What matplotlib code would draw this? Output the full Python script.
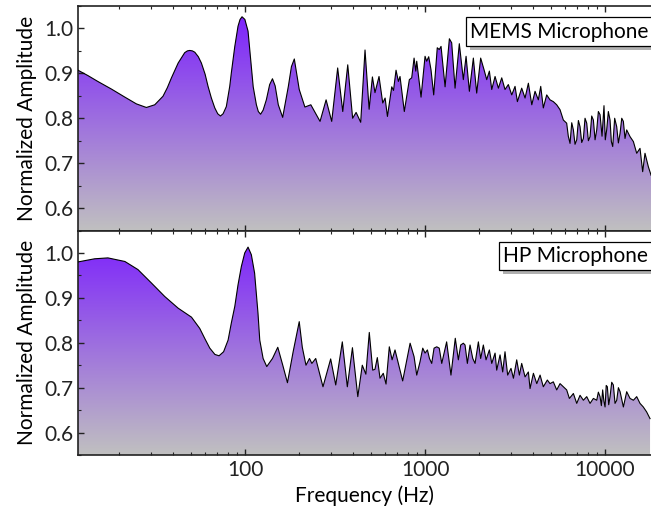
import numpy as np
import matplotlib
matplotlib.use("Agg")
import matplotlib.pyplot as plt
from matplotlib.colors import LinearSegmentedColormap
from matplotlib.ticker import MultipleLocator, FuncFormatter
from matplotlib import patheffects

plt.rcParams['font.family'] = ['Lato', 'DejaVu Sans']

# frequency response of the MEMS microphone: (Hz, normalized amplitude)
mems_points = [
    (11.8, 0.907), (13.4, 0.895), (15.2, 0.882), (18.1, 0.865), (21.5, 0.847),
    (24.9, 0.832), (28.3, 0.824), (31.5, 0.830), (35.0, 0.849), (37.0, 0.868),
    (39.0, 0.890), (42.5, 0.923), (46.2, 0.946), (47.8, 0.950), (49.3, 0.951),
    (51.0, 0.950), (52.6, 0.947), (55.0, 0.937), (57.2, 0.923), (60.0, 0.898),
    (62.3, 0.871), (65.0, 0.845), (67.9, 0.823), (70.5, 0.810), (73.0, 0.805),
    (75.5, 0.810), (78.7, 0.826), (82.2, 0.871), (83.9, 0.901), (87.7, 0.960),
    (91.4, 1.005), (93.8, 1.020), (96.2, 1.026), (99.8, 1.020), (103.9, 0.994),
    (108.4, 0.916), (111, 0.870), (115.6, 0.830), (118.5, 0.815), (122, 0.809),
    (126, 0.818), (131.3, 0.841), (137, 0.875), (142, 0.888), (147, 0.872),
    (153, 0.830), (161.8, 0.802), (174, 0.871), (181, 0.915), (187.8, 0.932),
    (200, 0.864), (215, 0.825), (232, 0.830), (261, 0.793), (282, 0.841),
    (303, 0.793), (327, 0.912), (349, 0.815), (372, 0.919), (396, 0.800),
    (414, 0.813), (439, 0.791), (464, 0.952), (489, 0.820), (510, 0.892),
    (527, 0.857), (555, 0.893), (582, 0.834), (600, 0.845), (618, 0.804),
    (653, 0.870), (668, 0.862), (690, 0.907), (711, 0.882), (726, 0.893),
    (767, 0.815), (818, 0.886), (843, 0.890), (869, 0.934), (888, 0.905),
    (899, 0.927), (950, 0.847), (1000, 0.938), (1021, 0.927), (1048, 0.937),
    (1079, 0.908), (1117, 0.852), (1169, 0.957), (1199, 0.953), (1227, 0.960),
    (1292, 0.870), (1365, 0.977), (1406, 0.968), (1468, 0.867), (1550, 0.966),
    (1632, 0.886), (1690, 0.938), (1763, 0.860), (1855, 0.934), (1936, 0.856),
    (2037, 0.934), (2127, 0.908), (2201, 0.886), (2277, 0.905), (2347, 0.864),
    (2449, 0.893), (2555, 0.867), (2667, 0.890), (2781, 0.864), (2902, 0.875),
    (3031, 0.852), (3162, 0.871), (3258, 0.837), (3443, 0.867), (3594, 0.845),
    (3750, 0.878), (3917, 0.830), (4084, 0.860), (4259, 0.841), (4392, 0.871),
    (4540, 0.823), (4741, 0.852), (4946, 0.841), (5160, 0.837), (5387, 0.830),
    (5623, 0.819), (5866, 0.796), (6121, 0.789), (6250, 0.760), (6390, 0.744),
    (6530, 0.790), (6669, 0.774), (6810, 0.742), (6960, 0.752), (7110, 0.795),
    (7263, 0.781), (7420, 0.746), (7578, 0.755), (7740, 0.800), (7911, 0.789),
    (8080, 0.750), (8254, 0.759), (8430, 0.805), (8613, 0.796), (8800, 0.752),
    (8990, 0.774), (9180, 0.815), (9380, 0.808), (9620, 0.760), (9866, 0.828),
    (10030, 0.752), (10210, 0.774), (10430, 0.815), (10660, 0.796), (10840, 0.748),
    (11030, 0.737), (11310, 0.800), (11610, 0.781), (11860, 0.745), (12120, 0.767),
    (12380, 0.800), (12640, 0.793), (12910, 0.755), (13190, 0.774), (13770, 0.759),
    (14370, 0.748), (14990, 0.722), (15640, 0.733), (16180, 0.681), (16670, 0.722),
    (17400, 0.692), (18020, 0.673),
]

# frequency response of the HP microphone
hp_points = [
    (11.8, 0.980), (14.6, 0.987), (17.3, 0.989), (21.5, 0.981), (25.4, 0.963),
    (30.2, 0.933), (35.8, 0.903), (42.5, 0.877), (50.4, 0.857), (56, 0.832),
    (60, 0.808), (63.7, 0.788), (68, 0.774), (71.7, 0.771), (76, 0.780),
    (80.5, 0.806), (83.9, 0.844), (87.7, 0.881), (91.4, 0.929), (95.4, 0.970),
    (99.6, 1.000), (103.9, 1.013), (108.4, 0.996), (113, 0.955), (118, 0.866),
    (120.7, 0.806), (126, 0.765), (132, 0.747), (142, 0.765), (152, 0.790),
    (162, 0.750), (172, 0.711), (185, 0.780), (200, 0.847), (208, 0.790),
    (218, 0.750), (228, 0.765), (235, 0.754), (247, 0.765), (271, 0.702),
    (299, 0.764), (319, 0.706), (347, 0.802), (370, 0.702), (395, 0.789),
    (423, 0.680), (448, 0.750), (469, 0.730), (490, 0.823), (512, 0.739),
    (527, 0.741), (543, 0.767), (562, 0.721), (586, 0.732), (607, 0.708),
    (633, 0.791), (656, 0.762), (681, 0.784), (751, 0.715), (826, 0.799),
    (869, 0.769), (899, 0.728), (938, 0.758), (971, 0.788), (1000, 0.777),
    (1031, 0.784), (1058, 0.765), (1089, 0.754), (1122, 0.788), (1161, 0.791),
    (1199, 0.788), (1238, 0.754), (1318, 0.802), (1393, 0.728), (1472, 0.810),
    (1531, 0.762), (1578, 0.795), (1632, 0.799), (1668, 0.795), (1718, 0.754),
    (1778, 0.795), (1841, 0.765), (1896, 0.754), (1978, 0.802), (2037, 0.765),
    (2108, 0.795), (2182, 0.762), (2277, 0.784), (2347, 0.754), (2449, 0.777),
    (2501, 0.739), (2610, 0.773), (2700, 0.735), (2781, 0.780), (2877, 0.728),
    (3003, 0.743), (3097, 0.721), (3230, 0.762), (3342, 0.728), (3443, 0.754),
    (3594, 0.724), (3750, 0.735), (3831, 0.698), (3999, 0.732), (4175, 0.709),
    (4356, 0.728), (4540, 0.702), (4779, 0.717), (4946, 0.709), (5160, 0.713),
    (5387, 0.695), (5623, 0.709), (5866, 0.702), (6121, 0.695), (6336, 0.676),
    (6669, 0.687), (6960, 0.665), (7263, 0.683), (7578, 0.672), (7911, 0.680),
    (8254, 0.665), (8613, 0.676), (8990, 0.672), (9180, 0.690), (9380, 0.680),
    (9540, 0.660), (9700, 0.695), (9850, 0.670), (10000, 0.657), (10150, 0.705),
    (10300, 0.702), (10480, 0.662), (10660, 0.680), (10890, 0.712), (11120, 0.706),
    (11360, 0.665), (11610, 0.672), (11860, 0.700), (12120, 0.691), (12640, 0.657),
    (13190, 0.691), (13770, 0.676), (14370, 0.672), (14990, 0.680), (15640, 0.665),
    (16310, 0.657), (17020, 0.646), (17780, 0.631),
]

panel_names = ["MEMS Microphone", "HP Microphone"]

fill_cmap = LinearSegmentedColormap.from_list("grey_violet", ["#c0c0c0", "#7a1cff"])
y_min, y_max = 0.55, 1.05
x_min, x_max = 11.8, 18000
fs = 15

fig = plt.figure(figsize=(6.51, 5.12), dpi=100)
ax_top = fig.add_axes([0.1198, 0.5498, 0.8802, 0.4385])
ax_bot = fig.add_axes([0.1198, 0.1113, 0.8802, 0.4385])

panels = [(ax_top, mems_points, panel_names[0]),
          (ax_bot, hp_points, panel_names[1])]

for ax, points, name in panels:
    freq, amp = zip(*points)
    ax.set_xscale("log")

    # gradient fill under the curve: clip a vertical colour ramp to the area
    area = ax.fill_between(freq, amp, y_min, facecolor="none", edgecolor="none")
    ramp = np.linspace(0, 1, 256).reshape(-1, 1)
    im = ax.imshow(ramp, cmap=fill_cmap, origin="lower", aspect="auto",
                   extent=[0, 1, 0, 1], transform=ax.transAxes, zorder=1)
    im.set_clip_path(area.get_paths()[0], transform=ax.transData)

    ax.plot(freq, amp, color="black", lw=0.8, zorder=3)

    ax.set_xlim(x_min, x_max)
    ax.set_ylim(y_min, y_max)
    ax.yaxis.set_major_locator(MultipleLocator(0.1))
    ax.yaxis.set_minor_locator(MultipleLocator(0.05))
    ax.xaxis.set_major_formatter(FuncFormatter(lambda v, p: f"{v:g}"))

    ax.tick_params(which="both", direction="in", top=True, right=False,
                   labelsize=fs, colors="#222222")
    ax.tick_params(which="major", length=4, width=1)
    ax.tick_params(which="minor", length=2.5, width=0.8)
    for side in ["left", "top", "bottom"]:
        ax.spines[side].set_color("#222222")
        ax.spines[side].set_linewidth(1.2)
    ax.spines["right"].set_visible(False)

    ax.set_ylabel("Normalized Amplitude", fontsize=fs, labelpad=5)

    t = ax.text(0.995, 0.886, name, transform=ax.transAxes, ha="right", va="center",
                fontsize=fs, zorder=5,
                bbox=dict(boxstyle="square,pad=0.2", facecolor="white",
                          edgecolor="black", linewidth=0.9))
    t.get_bbox_patch().set_path_effects([
        patheffects.SimplePatchShadow(offset=(3, -3), shadow_rgbFace="#b0b0b0", alpha=1.0),
        patheffects.Normal()])

ax_top.tick_params(labelbottom=False)
ax_bot.set_xlabel("Frequency (Hz)", fontsize=fs, labelpad=4)

fig.savefig("out.png", dpi=100)
plt.close(fig)
